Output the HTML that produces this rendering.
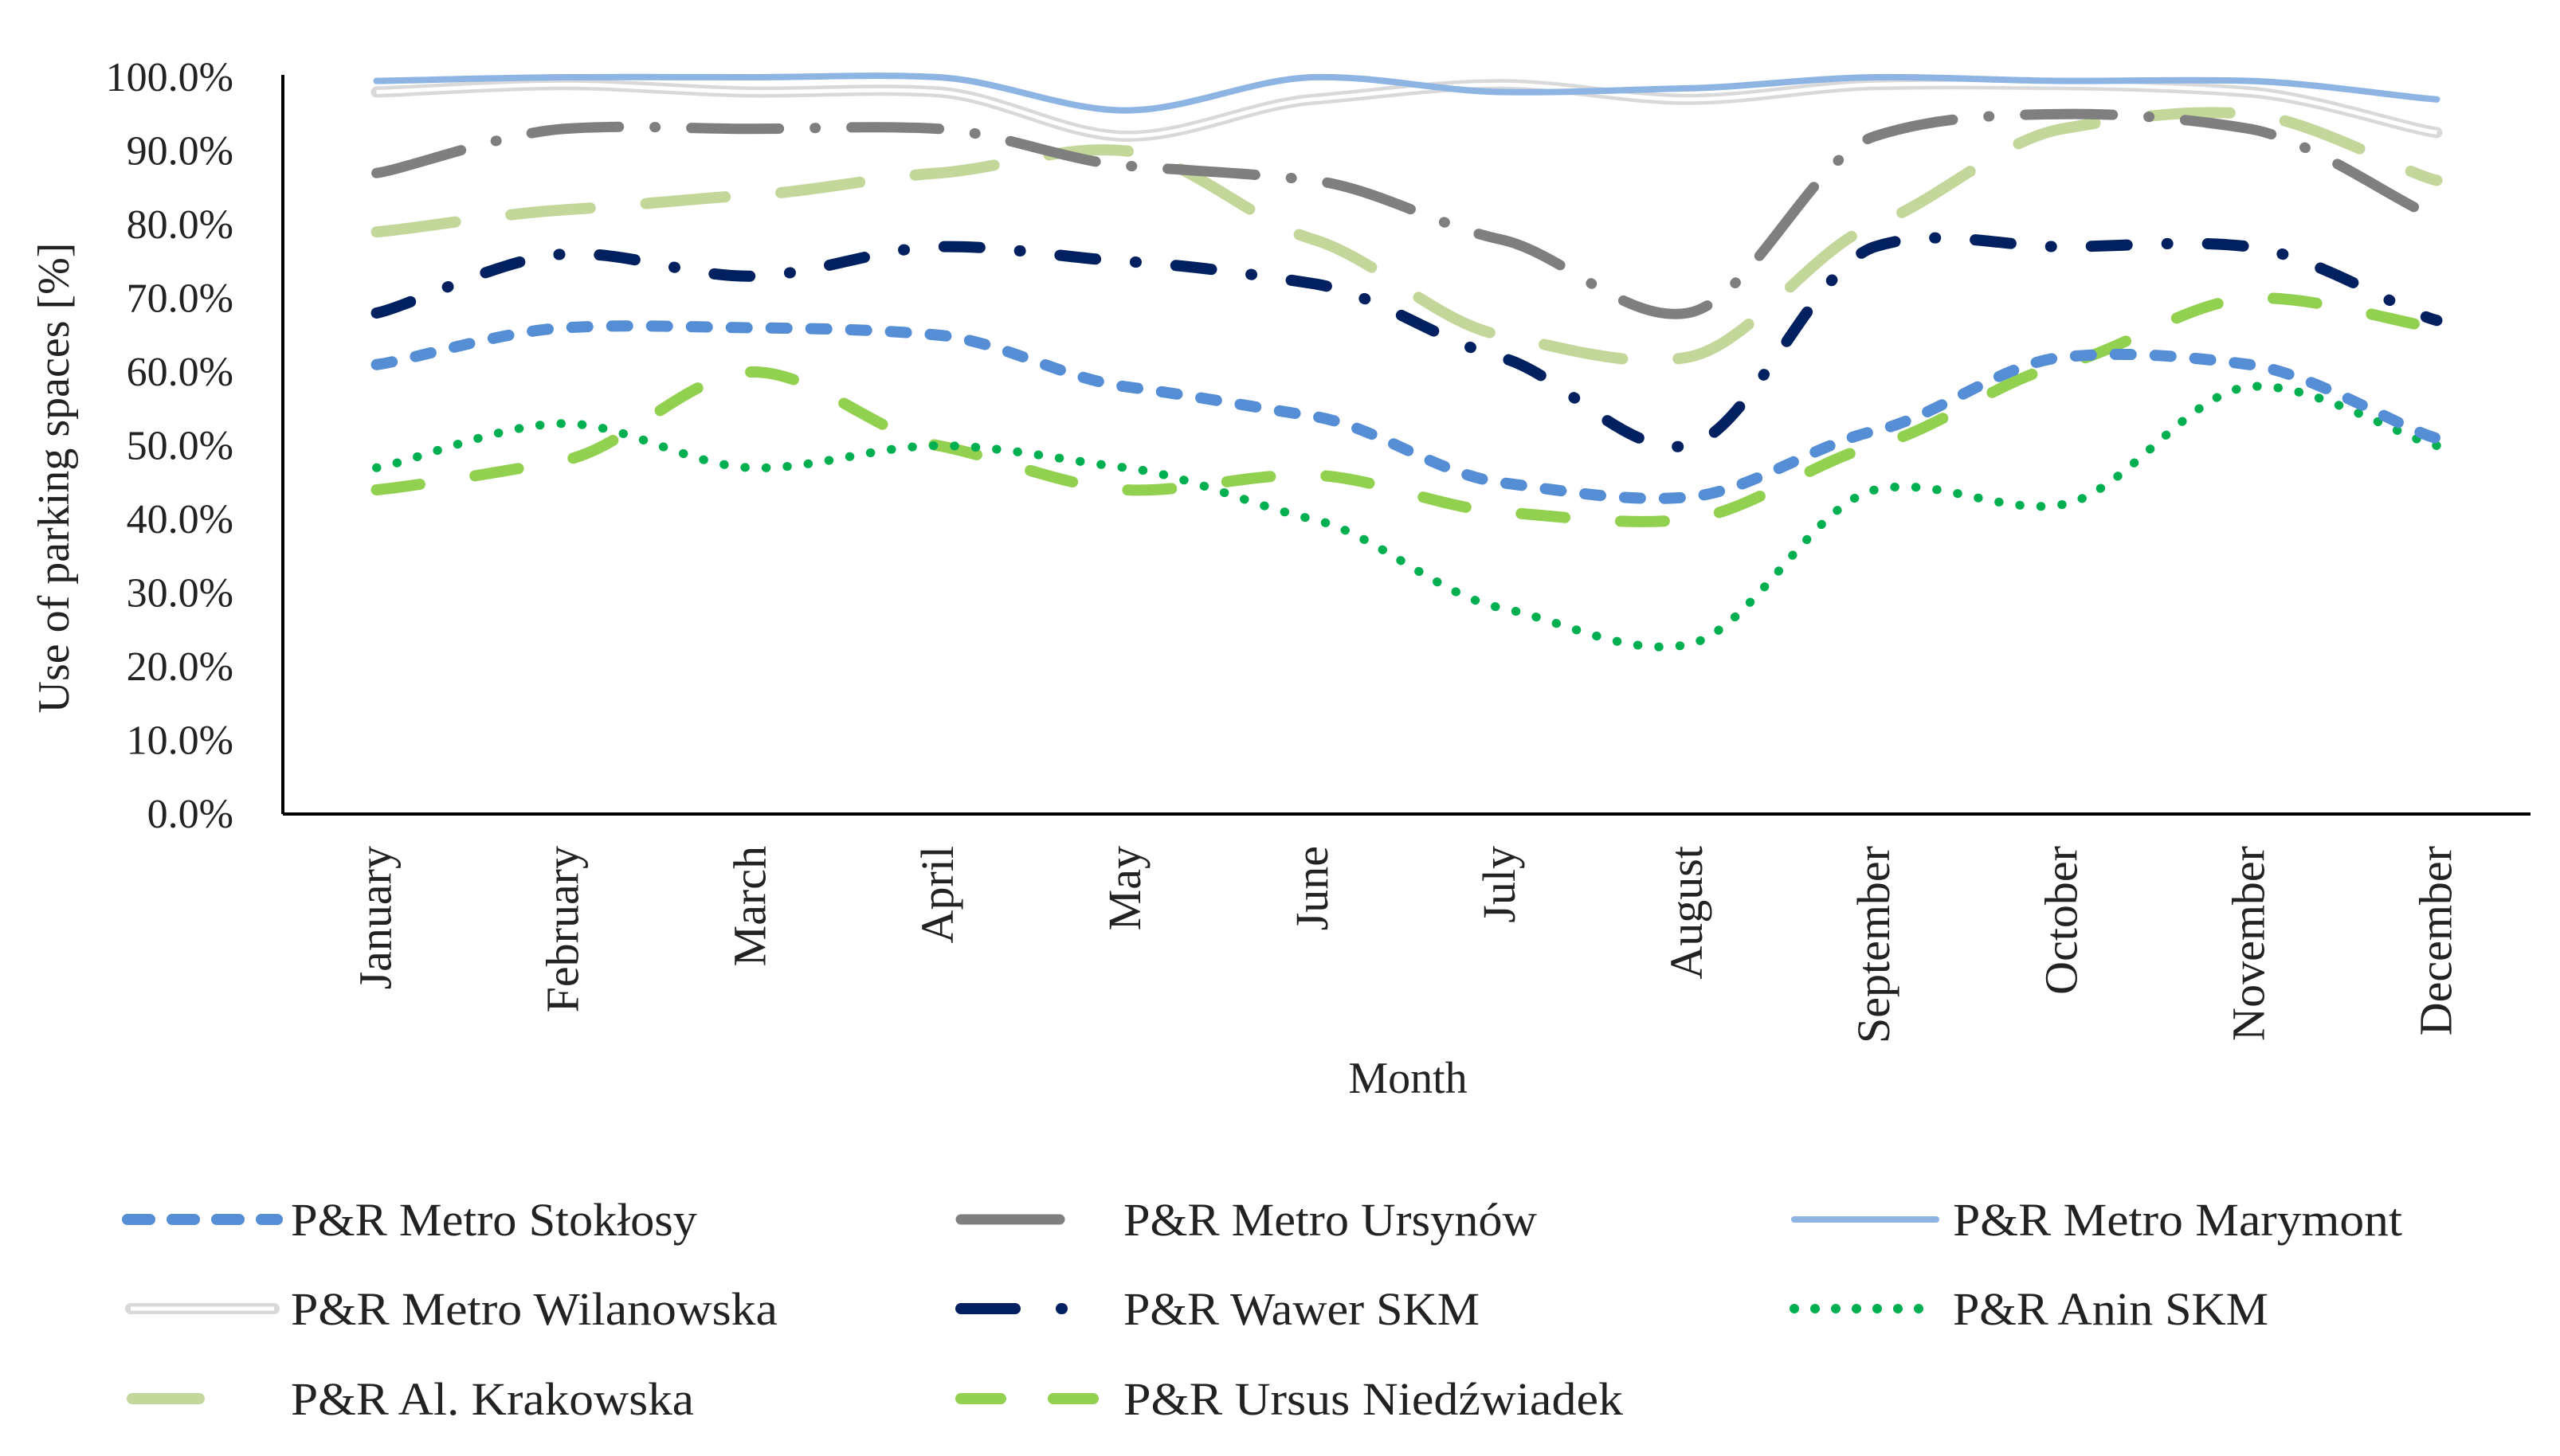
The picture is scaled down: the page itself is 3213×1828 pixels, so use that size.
<!DOCTYPE html>
<html><head><meta charset="utf-8"><style>
html,body{margin:0;padding:0;background:#fff;}
svg{display:block;font-family:"Liberation Serif",serif;}
</style></head><body>
<svg id="chart" width="3213" height="1828" viewBox="0 0 3213 1828" xmlns="http://www.w3.org/2000/svg">
<g id="grid"></g><g id="series"></g><g id="axes"></g><g id="legend"></g>
</svg>
<script>
const months = ["January","February","March","April","May","June","July","August","September","October","November","December"];
const yTicks = [0,10,20,30,40,50,60,70,80,90,100];
const stoklosy = [61,66,66,65,58,54,45,43,52,62,61,51];
const ursynow = [87,93,93,93,88,86,78,68,92,95,93,81];
const marymont = [99.5,100,100,100,95.5,100,98,98.5,100,99.5,99.5,97];
const wilanowska = [98,99,98,98,92,97,99,97,99,99,98,92.5];
const wawer = [68,76,73,77,75,72,62,50,77,77,77,67];
const anin = [47,53,47,50,47,40,28,23,44,42,58,50];
const krakowska = [79,82,84,87,90,78,65,62,80,93,95,86];
const ursus = [44,48,60,50,44,46,41,40,50,61,70,66];
const seriesNames = ["P&R Metro Stokłosy","P&R Metro Ursynów","P&R Metro Marymont","P&R Metro Wilanowska","P&R Wawer SKM","P&R Anin SKM","P&R Al. Krakowska","P&R Ursus Niedźwiadek"];

const NS="http://www.w3.org/2000/svg";
const X0=355, X1=3176, Y0=1022, Y1=97;
const bw=(X1-X0)/months.length;
const xs=i=>X0+(i+0.5)*bw;
const ys=v=>Y0-(v/100)*(Y0-Y1);
function mk(tag,attrs,parent){const e=document.createElementNS(NS,tag);for(const k in attrs)e.setAttribute(k,attrs[k]);parent.appendChild(e);return e;}
const axes=document.getElementById('axes'), ser=document.getElementById('series'), leg=document.getElementById('legend');

function smooth(vals){
  const p=vals.map((v,i)=>[xs(i),ys(v)]);
  const k=10;
  let d=`M${p[0][0]},${p[0][1]}`;
  for(let i=0;i<p.length-1;i++){
    const p0=p[i-1]||p[i],p1=p[i],p2=p[i+1],p3=p[i+2]||p2;
    const c1=[p1[0]+(p2[0]-p0[0])/6,p1[1]+(p2[1]-p0[1])/k];
    const c2=[p2[0]-(p3[0]-p1[0])/6,p2[1]-(p3[1]-p1[1])/k];
    d+=` C${c1[0]},${c1[1]} ${c2[0]},${c2[1]} ${p2[0]},${p2[1]}`;
  }
  return d;
}
const styles=[
 {data:stoklosy,color:"#558ed5",w:14,dash:"20 30",cap:"round"},
 {data:ursynow,color:"#7f7f7f",w:13,dash:"110 45 1 45",cap:"round"},
 {data:marymont,color:"#8db4e2",w:8,dash:"",cap:"round"},
 {data:wilanowska,color:"#d9d9d9",w:14,dash:"",cap:"round",inner:true},
 {data:wawer,color:"#002060",w:14,dash:"45 50 1 50",cap:"round"},
 {data:anin,color:"#00b050",w:11,dash:"0.5 26",cap:"round"},
 {data:krakowska,color:"#c4d79b",w:14,dash:"100 70",cap:"round"},
 {data:ursus,color:"#92d050",w:14,dash:"55 70",cap:"round"}
];
const names=["stoklosy","ursynow","marymont","wilanowska","wawer","anin","krakowska","ursus"];
const order=[7,5,0,4,6,1,3,2];
order.forEach(i=>{
  const s=styles[i];
  const p=mk('path',{d:smooth(s.data),fill:"none",stroke:s.color,"stroke-width":s.w,"stroke-linecap":s.cap,"stroke-linejoin":"round","stroke-dasharray":s.dash},ser);
  
  
  if(s.inner){const q=mk('path',{d:smooth(s.data),fill:"none",stroke:"#fff","stroke-width":5,"stroke-linejoin":"round"},ser);
    
    }
});

// axes
const ya=mk('line',{x1:X0,y1:Y1-3,x2:X0,y2:Y0,stroke:"#000","stroke-width":4},axes);

const xa=mk('line',{x1:X0,y1:Y0,x2:X1,y2:Y0,stroke:"#000","stroke-width":4},axes);

yTicks.forEach(v=>{
  const t=mk('text',{x:293,y:ys(v)+17,"text-anchor":"end","font-size":52,fill:"#222"},axes);
  t.textContent=v.toFixed(1)+"%";
  
});
months.forEach((m,i)=>{
  const x=xs(i)+18,y=1062;
  const t=mk('text',{x:x,y:y,"text-anchor":"end","font-size":58,fill:"#222",transform:`rotate(-90 ${x} ${y})`},axes);
  t.textContent=m;
  
});
const xt=mk('text',{x:1767,y:1372,"text-anchor":"middle","font-size":56,fill:"#222"},axes);
xt.textContent="Month";
const yt=mk('text',{x:86,y:600,"text-anchor":"middle","font-size":56,fill:"#222",transform:"rotate(-90 86 600)"},axes);
yt.textContent="Use of parking spaces [%]";

// legend
const legPos=[[160,1531,365,510],[1200,1531,1410,519],[2248,1531,2451,564],[160,1643,365,611],[1200,1643,1410,447],[2248,1643,2451,396],[160,1756,365,506],[1200,1756,1410,627]];
const legSamples=[
 [[160,188],[216,244],[272,300],[328,348]],
 [[1206,1330]],
 [[2252,2430]],
 [[164,344]],
 [[1206,1274],[1332,1333]],
 null,
 [[166,250]],
 [[1206,1256],[1322,1372]]
];
legPos.forEach((lp,i)=>{
  const g=mk('g',{},leg);
  
  
  const s=styles[i];
  if(i===5){
    for(let x=2252;x<=2430;x+=26){mk('circle',{cx:x,cy:lp[1],r:6,fill:s.color},g);}
  } else {
    legSamples[i].forEach(seg=>{
      mk('line',{x1:seg[0],y1:lp[1],x2:seg[1],y2:lp[1],stroke:s.color,"stroke-width":s.w,"stroke-linecap":"round"},g);
      if(s.inner) mk('line',{x1:seg[0],y1:lp[1],x2:seg[1],y2:lp[1],stroke:"#fff","stroke-width":5},g);
    });
  }
  const t=mk('text',{x:lp[2],y:lp[1]+20,"font-size":58,fill:"#222",textLength:lp[3],lengthAdjust:"spacingAndGlyphs"},g);
  t.textContent=seriesNames[i];
});
</script>
</body></html>
